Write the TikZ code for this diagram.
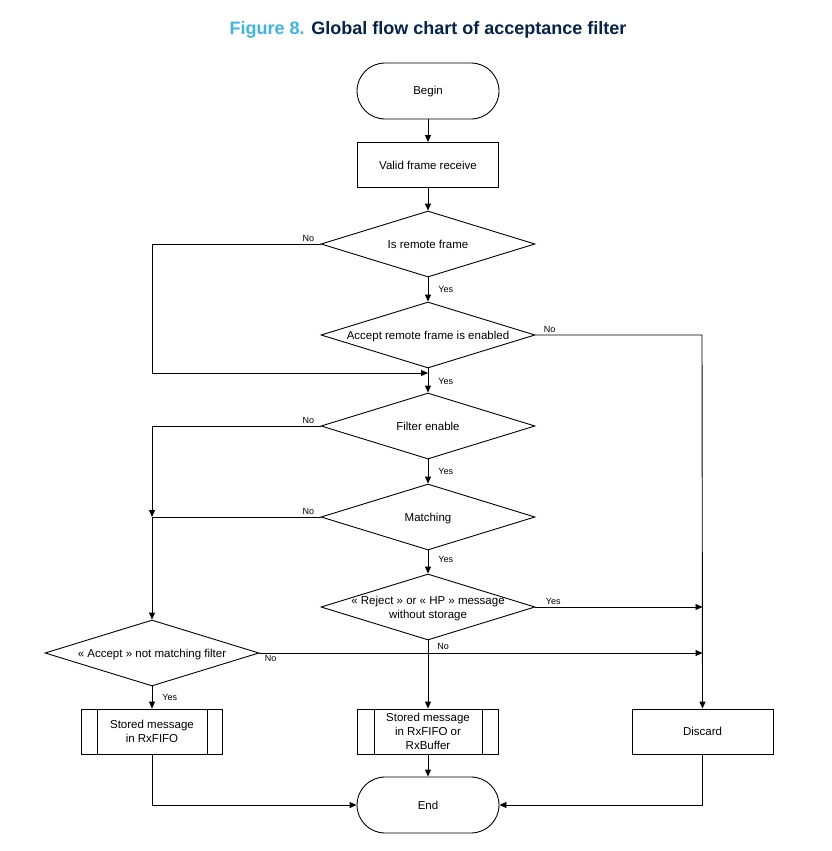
\documentclass[tikz,border=0pt]{standalone}
\usepackage{fontspec}
\setmainfont{Liberation Sans}
\usetikzlibrary{shapes.geometric,arrows.meta}
\definecolor{stblue}{HTML}{3CB4E6}
\definecolor{stnavy}{HTML}{03234B}
\tikzset{
	base/.style={draw, line width=0.9pt, font=\fontsize{11.5}{14}\selectfont, align=center, inner sep=0pt},
	term/.style={base, rectangle, rounded corners=28pt, minimum width=142pt, minimum height=56pt, text height=8.5pt, text depth=0.5pt},
	proc/.style={base, rectangle, minimum width=141pt, minimum height=45pt},
	dec/.style={base, diamond, shape aspect=3.24, minimum width=214pt, minimum height=66pt},
	arr/.style={line width=0.9pt, -{Triangle[length=7pt,width=6pt]}},
	line/.style={line width=0.9pt},
	lbl/.style={font=\fontsize{9}{10}\selectfont, inner sep=2pt},
}
\newcommand{\dtext}[1]{\makebox[0pt]{\raisebox{-4.9pt}[0pt][0pt]{\begin{tabular}{@{}c@{}}#1\end{tabular}}}}

\begin{document}
\begin{tikzpicture}[x=1pt,y=-1pt]
		\useasboundingbox (0,0) rectangle (831,851);
		\node (title) at (428,29.5) {\fontsize{18}{20}\selectfont\bfseries\textcolor{stblue}{Figure 8.} \textcolor{stnavy}{Global flow chart of acceptance filter}};
		
		\node[term] (begin) at (428,91) {Begin};
		\node[proc] (valid) at (428,165) {Valid frame receive};
		\node[dec] (remote) at (428,244) {\dtext{Is remote frame}};
		\node[dec] (accremote) at (428,335) {\dtext{Accept remote frame is enabled}};
		\node[dec] (filter) at (428,426) {\dtext{Filter enable}};
		\node[dec] (matching) at (428,517) {\dtext{Matching}};
		\node[dec] (reject) at (428,607) {\dtext{\guillemotleft{} Reject \guillemotright{} or \guillemotleft{} HP \guillemotright{} message\\without storage}};
		\node[dec] (notmatch) at (152,653) {\dtext{\guillemotleft{} Accept \guillemotright{} not matching filter}};
		\node[proc] (store1) at (152,731.5) {Stored message\\in RxFIFO};
		\node[proc] (store2) at (428,731.5) {Stored message\\in RxFIFO or\\RxBuffer};
		\node[proc] (discard) at (702.5,731.5) {Discard};
		\node[term] (end) at (428,805) {End};
		
		\draw[line] ([xshift=16pt]store1.north west) -- ([xshift=16pt]store1.south west);
		\draw[line] ([xshift=-16pt]store1.north east) -- ([xshift=-16pt]store1.south east);
		\draw[line] ([xshift=17pt]store2.north west) -- ([xshift=17pt]store2.south west);
		\draw[line] ([xshift=-17pt]store2.north east) -- ([xshift=-17pt]store2.south east);
		
		\coordinate (j1) at (428,373);
		\coordinate (j2) at (152,517);
		
		\draw[arr] (begin) -- (valid);
		\draw[arr] (valid) -- (remote);
		\draw[arr] (remote) -- node[lbl, right=8pt] {Yes} (accremote);
		\draw[arr] (remote.west) -- node[lbl, above left, pos=0, xshift=-4pt] {No} (152,244) |- (j1);
		\draw[arr] (accremote) -- node[lbl, right=8pt, pos=0.55] {Yes} (filter);
		\draw[arr] (accremote.east) -- node[lbl, above right, pos=0, xshift=6pt] {No} (702,335) -- (discard.north);
		\draw[arr] (filter) -- node[lbl, right=8pt] {Yes} (matching);
		\draw[arr] (filter.west) -- node[lbl, above left, pos=0, xshift=-4pt] {No} (152,426) -- (j2);
		\draw[line] (matching.west) -- node[lbl, above left, pos=0, xshift=-4pt] {No} (j2);
		\draw[arr] (j2) -- (notmatch.north);
		\draw[arr] (matching) -- node[lbl, right=8pt, pos=0.4] {Yes} (reject);
		\draw[arr] (reject.east) -- node[lbl, above right, pos=0, xshift=8pt] {Yes} (reject.east -| discard.north);
		\draw[arr] (reject.south) -- node[lbl, below right, pos=0, xshift=7pt] {No} (store2.north);
		\draw[arr] (notmatch.east) -- node[lbl, below right, pos=0, xshift=3pt] {No} (notmatch.east -| discard.north);
		\draw[arr] (notmatch.south) -- node[lbl, right=8pt] {Yes} (store1.north);
		\draw[arr] (store1.south) |- (end.west);
		\draw[arr] (store2.south) -- (end.north);
		\draw[arr] (discard.south) |- (end.east);
	\end{tikzpicture}
\end{document}
